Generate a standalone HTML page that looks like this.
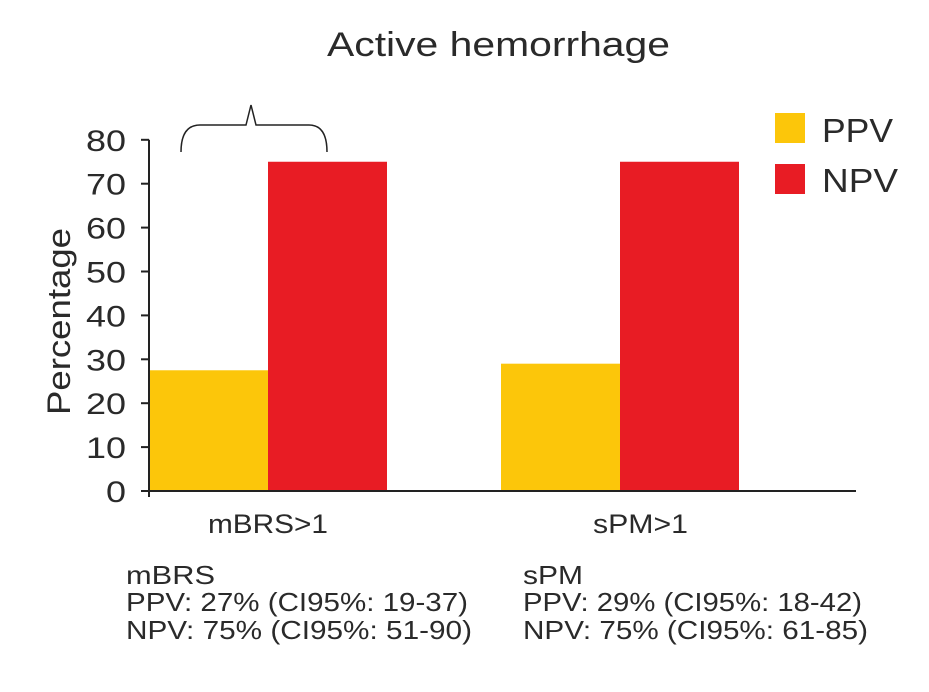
<!DOCTYPE html>
<html><head><meta charset="utf-8"><style>
body{margin:0;background:#fff;}
svg text{font-family:"Liberation Sans",sans-serif;fill:#2a2a2a;}
</style></head><body>
<svg id="chart" width="929" height="687">
<text x="327" y="56" font-size="34" textLength="343" lengthAdjust="spacingAndGlyphs">Active hemorrhage</text>
<text transform="translate(70,415) rotate(-90)" font-size="32" textLength="187" lengthAdjust="spacingAndGlyphs">Percentage</text>
<g id="bars"></g><g id="axes"></g>
<path d="M181,152 Q181,125 200,125 L246,125 L251,105 L256,125 L309,125 Q327,125 327,152" fill="none" stroke="#222" stroke-width="1.5"/>
<rect x="775" y="113" width="30" height="30" fill="#fcc60a"/>
<text x="822" y="142" font-size="33" textLength="71" lengthAdjust="spacingAndGlyphs">PPV</text>
<rect x="775" y="164" width="30" height="30" fill="#e81c24"/>
<text x="822" y="192" font-size="33" textLength="76" lengthAdjust="spacingAndGlyphs">NPV</text>
<g font-size="26">
<text x="126" y="584" textLength="89" lengthAdjust="spacingAndGlyphs">mBRS</text><text x="126" y="611" textLength="342" lengthAdjust="spacingAndGlyphs">PPV: 27% (CI95%: 19-37)</text><text x="126" y="639" textLength="346" lengthAdjust="spacingAndGlyphs">NPV: 75% (CI95%: 51-90)</text></g>
<g font-size="26">
<text x="523" y="584" textLength="60" lengthAdjust="spacingAndGlyphs">sPM</text><text x="523" y="611" textLength="339" lengthAdjust="spacingAndGlyphs">PPV: 29% (CI95%: 18-42)</text><text x="523" y="639" textLength="345" lengthAdjust="spacingAndGlyphs">NPV: 75% (CI95%: 61-85)</text></g>
</svg>
<script>
const categories=["mBRS>1","sPM>1"];
const ppvValues=[27.5,29];
const npvValues=[75,75];
const yTicks=[0,10,20,30,40,50,60,70,80];
const NS="http://www.w3.org/2000/svg";
const y0=491,yScale=4.39,axX=149;
const y=v=>y0-v*yScale;
const groupX=[149,501],bw=119;
const labelW=[120,95];
const labelX=[208,593];
const bars=document.getElementById('bars'),axes=document.getElementById('axes');
function mk(t,a,p){const e=document.createElementNS(NS,t);for(const k in a)e.setAttribute(k,a[k]);p.appendChild(e);return e;}
categories.forEach((c,i)=>{
 const r1=mk('rect',{x:groupX[i],y:y(ppvValues[i]),width:bw,height:ppvValues[i]*yScale,fill:'#fcc60a'},bars);
 
 
 const r2=mk('rect',{x:groupX[i]+bw,y:y(npvValues[i]),width:bw,height:npvValues[i]*yScale,fill:'#e81c24'},bars);
 
 
 const t=mk('text',{x:labelX[i],y:533,'font-size':27,textLength:labelW[i],lengthAdjust:'spacingAndGlyphs'},axes);
 t.textContent=c;
 
 
});
const xl=mk('line',{x1:axX,y1:y0,x2:856,y2:y0,stroke:'#222','stroke-width':2},axes);


const yl=mk('line',{x1:axX,y1:y(80),x2:axX,y2:y0+6,stroke:'#222','stroke-width':2},axes);


yTicks.forEach(v=>{
 const l=mk('line',{x1:axX-8,y1:y(v),x2:axX,y2:y(v),stroke:'#222','stroke-width':2},axes);
 
 
 const s=String(v);
 const w=s.length*20;
 const t=mk('text',{x:126-w,y:y(v)+11,'font-size':30,textLength:w,lengthAdjust:'spacingAndGlyphs'},axes);
 t.textContent=s;
 
 
});
</script>
</body></html>
